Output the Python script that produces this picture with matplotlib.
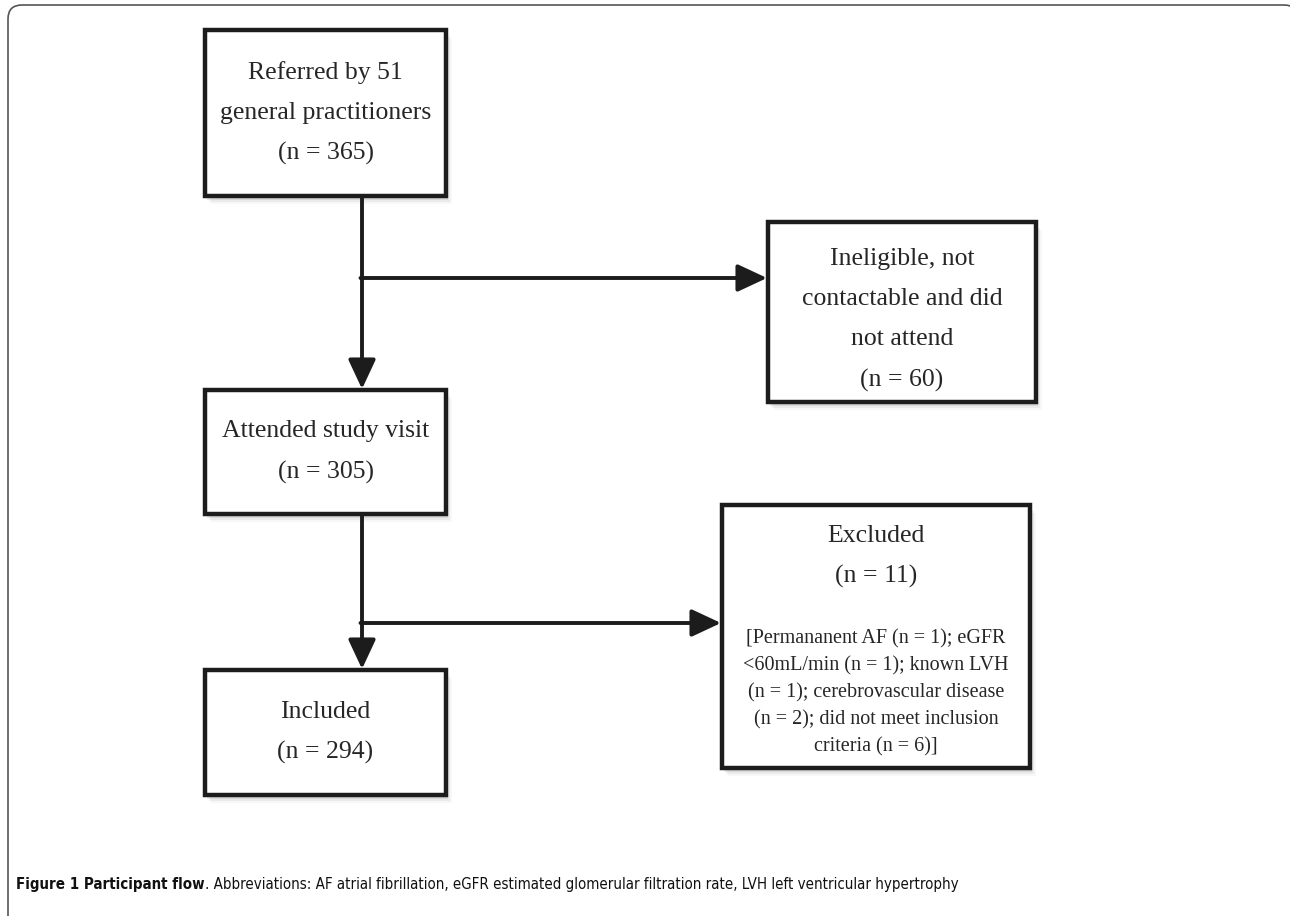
import matplotlib.pyplot as plt
from matplotlib.patches import Rectangle, FancyBboxPatch

# flow stages (main column) and exclusions (side boxes)
main_labels = ["Referred by 51\ngeneral practitioners", "Attended study visit", "Included"]
main_counts = [365, 305, 294]
side_labels = ["Ineligible, not\ncontactable and did\nnot attend", "Excluded"]
side_counts = [60, 11]
side_detail = ["", "[Permananent AF (n = 1); eGFR\n<60mL/min (n = 1); known LVH\n"
               "(n = 1); cerebrovascular disease\n(n = 2); did not meet inclusion\ncriteria (n = 6)]"]
caption_bold = "Figure 1 Participant flow"
caption_rest = (". Abbreviations: AF atrial fibrillation, eGFR estimated glomerular filtration rate, "
                "LVH left ventricular hypertrophy")

# layout in pixel units (x0, y0, x1, y1)
main_boxes = [(205, 30, 446, 196), (205, 390, 446, 514), (205, 670, 446, 795)]
side_boxes = [(768, 222, 1036, 402), (722, 505, 1030, 768)]
branch_y = [278, 623]
stem_x = 362

serif = ['Liberation Serif', 'DejaVu Serif']
txt_col = '#262626'
line_col = '#1c1c1c'

fig = plt.figure(figsize=(12.9, 9.16), dpi=100)
ax = fig.add_axes([0, 0, 1, 1])
ax.set_xlim(0, 1290)
ax.set_ylim(916, 0)
ax.axis('off')

# outer frame (right and bottom edges run off the page)
frame = FancyBboxPatch((8, 5), 1290, 925, boxstyle="round,pad=0,rounding_size=14",
                       fc='white', ec='#555555', lw=1.2, zorder=0)
ax.add_patch(frame)


def draw_box(b):
    x0, y0, x1, y1 = b
    # soft shadow
    for k, a in enumerate([0.08, 0.05, 0.03]):
        ax.add_patch(Rectangle((x0 + 2 + 2 * k, y0 + 4 + 2 * k), x1 - x0, y1 - y0,
                               fc='black', ec='none', alpha=a, zorder=1))
    ax.add_patch(Rectangle((x0, y0), x1 - x0, y1 - y0, fc='white', ec=line_col,
                           lw=3.2, zorder=2, joinstyle='miter'))


for b, lab, n in zip(main_boxes, main_labels, main_counts):
    draw_box(b)
    ax.text((b[0] + b[2]) / 2, (b[1] + b[3]) / 2, f"{lab}\n(n = {n})", ha='center', va='center',
            fontsize=18.5, family=serif, color=txt_col, linespacing=2.05, zorder=3)

for b, lab, n, det in zip(side_boxes, side_labels, side_counts, side_detail):
    draw_box(b)
    cx = (b[0] + b[2]) / 2
    if det:
        ax.text(cx, b[1] + 20, f"{lab}\n(n = {n})", ha='center', va='top',
                fontsize=18.5, family=serif, color=txt_col, linespacing=2.0, zorder=3)
        ax.text(cx, b[1] + 124, det, ha='center', va='top',
                fontsize=14.5, family=serif, color=txt_col, linespacing=1.55, zorder=3)
    else:
        ax.text(cx, (b[1] + b[3]) / 2 + 8, f"{lab}\n(n = {n})", ha='center', va='center',
                fontsize=18.5, family=serif, color=txt_col, linespacing=2.05, zorder=3)

arrow_kw = dict(arrowstyle='-|>,head_length=0.9,head_width=0.42', color=line_col, lw=2.8,
                shrinkA=0, shrinkB=0, mutation_scale=20)

# vertical stems with arrows
for upper, lower in zip(main_boxes[:-1], main_boxes[1:]):
    ax.annotate('', xy=(stem_x, lower[1] - 1), xytext=(stem_x, upper[3]), arrowprops=arrow_kw, zorder=4)

# side branches
for y, b in zip(branch_y, side_boxes):
    ax.annotate('', xy=(b[0] - 1, y), xytext=(stem_x - 1.5, y), arrowprops=arrow_kw, zorder=4)

# caption, scaled to span the same width as the original
cap_font = dict(family='DejaVu Sans', stretch='condensed', color='#111111')
cap_size = 14
t1 = ax.text(16, 885, caption_bold, ha='left', va='center', fontsize=cap_size,
             fontweight='bold', **cap_font)
t2 = ax.annotate(caption_rest, xy=(1, 0.5), xycoords=t1, ha='left', va='center',
                 fontsize=cap_size, **cap_font)
fig.canvas.draw()
r = fig.canvas.get_renderer()
w = t1.get_window_extent(r).width + t2.get_window_extent(r).width
scale = 950 / w
t1.set_fontsize(cap_size * scale)
t2.set_fontsize(cap_size * scale)

fig.savefig('out.png', dpi=100)
